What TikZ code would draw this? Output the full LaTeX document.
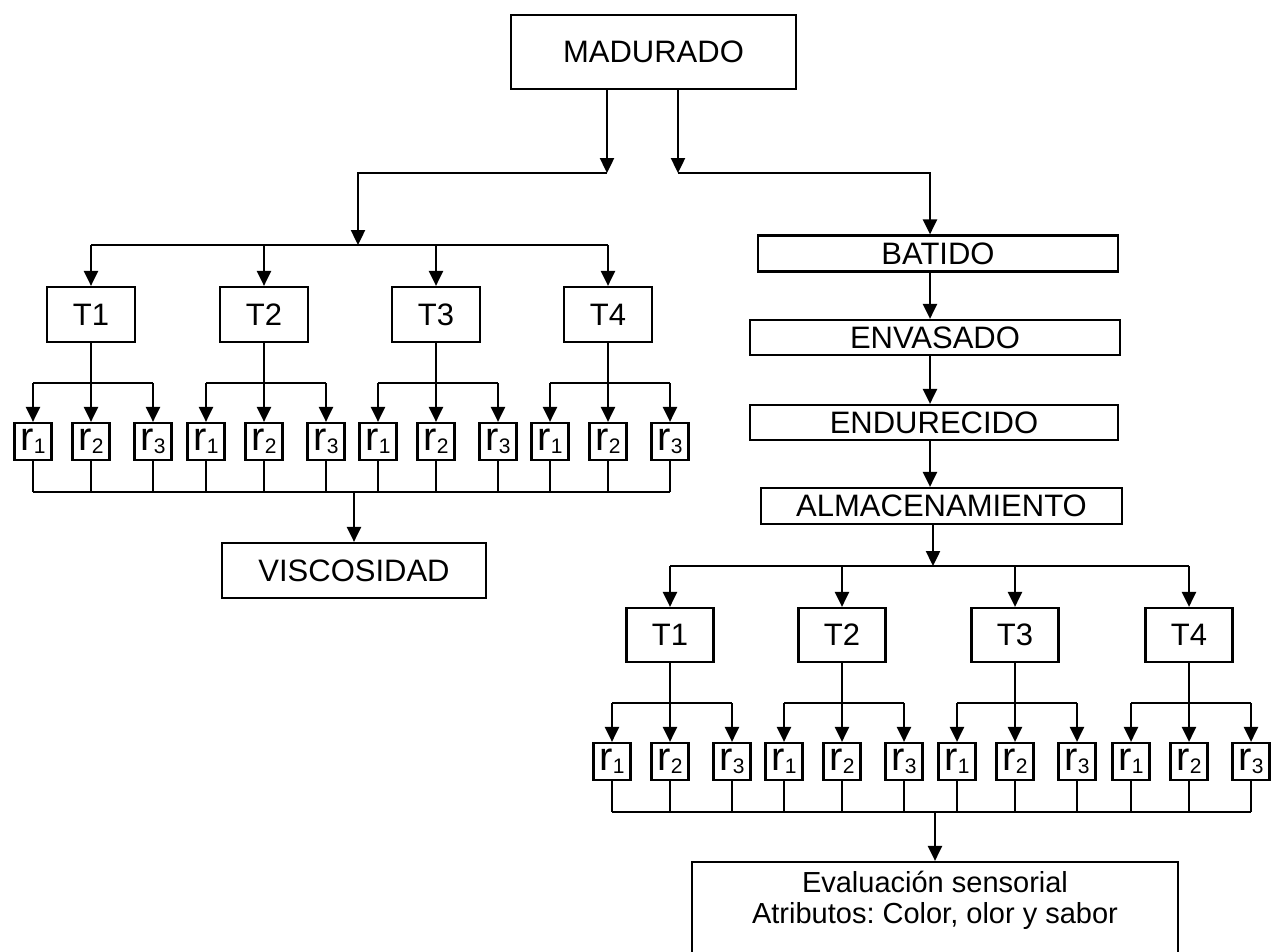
\documentclass[tikz,border=0pt]{standalone}
\usepackage{fontspec}
\setmainfont{Liberation Sans}
\usetikzlibrary{arrows.meta}
\frenchspacing

% replicate label: a tall "r" with a lowered index
\newcommand{\rsub}[1]{{\fontsize{40}{40}\selectfont r}\raisebox{-3pt}{\fontsize{21}{21}\selectfont #1}}

\begin{document}
\begin{tikzpicture}[x=1pt,y=-1pt,
  line width=2.4pt,
  box/.style={draw, line width=2.2pt, inner sep=0pt, font=\fontsize{31}{31}\selectfont},
  tbox/.style={box, minimum width=88pt, minimum height=55pt},
  rbox/.style={draw, line width=2.2pt, inner sep=0pt, minimum width=37pt, minimum height=37pt},
  stepbox/.style={box, minimum height=36pt},
  arr/.style={-{Triangle[length=15pt,width=14pt]}},
]
\useasboundingbox (0,0) rectangle (1277,951);
\clip (0,0) rectangle (1277,951);

% ---------- top process ----------
\node[box, minimum width=285pt, minimum height=74pt] (mad) at (653.5,52) {MADURADO};

\coordinate (jl) at (607,173);
\coordinate (jr) at (678,173);
\coordinate (kl) at (358,173);
\coordinate (kr) at (930,173);
\coordinate (lb) at (358,245);

\draw[arr] (mad.south -| jl) -- (jl);
\draw[arr] (mad.south -| jr) -- (jr);
\draw[arr] (jl) -- (kl) -- (lb);

% ---------- left branch: treatments and replicates ----------
\foreach \i/\x in {1/91,2/264,3/436,4/608} {
  \node[tbox] (lt\i) at (\x,314.5) {T\i};
  \node[rbox] (lr\i a) at (\x-58,441.5) {\rsub{1}};
  \node[rbox] (lr\i b) at (\x,441.5) {\rsub{2}};
  \node[rbox] (lr\i c) at (\x+62,441.5) {\rsub{3}};
  \coordinate (ls\i) at (\x,383);
}
\node[box, minimum width=264pt, minimum height=55pt] (visc) at (354,570.5) {VISCOSIDAD};

\draw (lt1 |- lb) -- (lt4 |- lb);
\coordinate (lbb) at (355,492);
\foreach \i in {1,2,3,4} {
  \draw[arr] (lt\i |- lb) -- (lt\i.north);
  \draw (lr\i a |- ls\i) -- (lr\i c |- ls\i);
  \draw[arr] (lt\i.south) -- (lr\i b.north);
  \draw[arr] (lr\i a |- ls\i) -- (lr\i a.north);
  \draw[arr] (lr\i c |- ls\i) -- (lr\i c.north);
  \foreach \j in {a,b,c} {
    \draw (lr\i\j.south) -- (lr\i\j |- lbb);
  }
}
\draw (lr1a |- lbb) -- (lr4c |- lbb);
\draw[arr] (visc |- lbb) -- (visc.north);

% ---------- right branch: processing chain ----------
\node[stepbox, minimum width=360pt] (bat) at (938,253.5) {BATIDO};
\node[stepbox, minimum width=370pt, minimum height=35pt] (env) at (935,337.5) {ENVASADO};
\node[stepbox, minimum width=368pt, minimum height=35pt] (end) at (934,422.5) {ENDURECIDO};
\node[stepbox, minimum width=361pt] (alm) at (941.5,506) {ALMACENAMIENTO};

\draw[arr] (jr) -- (kr) -- (kr |- bat.north);
\draw[arr] (bat.south -| kr) -- (env.north -| kr);
\draw[arr] (env.south -| kr) -- (end.north -| kr);
\draw[arr] (end.south -| kr) -- (alm.north -| kr);

\coordinate (rb) at (933,566);
\draw[arr] (alm.south -| rb) -- (rb);

% ---------- right branch: treatments and replicates ----------
\foreach \i/\x in {1/670,2/842,3/1015,4/1189} {
  \node[tbox, minimum width=87pt, minimum height=54pt] (rt\i) at (\x,635) {T\i};
  \node[rbox] (rr\i a) at (\x-58,761.5) {\rsub{1}};
  \node[rbox] (rr\i b) at (\x,761.5) {\rsub{2}};
  \node[rbox] (rr\i c) at (\x+62,761.5) {\rsub{3}};
  \coordinate (rs\i) at (\x,703);
}

\draw (rt1 |- rb) -- (rt4 |- rb);
\coordinate (rbb) at (935,812);
\foreach \i in {1,2,3,4} {
  \draw[arr] (rt\i |- rb) -- (rt\i.north);
  \draw (rr\i a |- rs\i) -- (rr\i c |- rs\i);
  \draw[arr] (rt\i.south) -- (rr\i b.north);
  \draw[arr] (rr\i a |- rs\i) -- (rr\i a.north);
  \draw[arr] (rr\i c |- rs\i) -- (rr\i c.north);
  \foreach \j in {a,b,c} {
    \draw (rr\i\j.south) -- (rr\i\j |- rbb);
  }
}
\draw (rr1a |- rbb) -- (rr4c |- rbb);

\node[draw, line width=2.2pt, inner sep=0pt, minimum width=486pt, minimum height=110pt] (eval) at (935,917) {};
\node[font=\fontsize{29}{31}\selectfont, align=center, inner sep=0pt] (evaltxt) at (935,900)
  {Evaluación sensorial\\Atributos: Color, olor y sabor};
\draw[arr] (eval |- rbb) -- (eval.north);
\end{tikzpicture}
\end{document}
